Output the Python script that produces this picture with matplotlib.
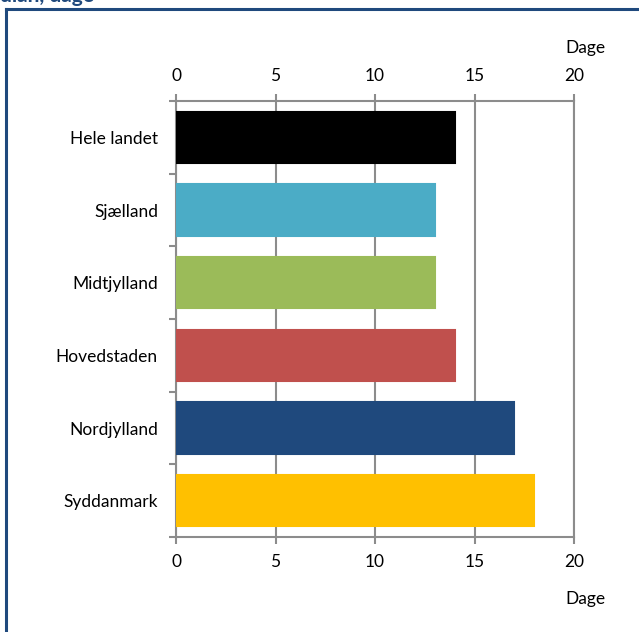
import numpy as np
import matplotlib.pyplot as plt
from matplotlib.lines import Line2D

plt.rcParams['font.family'] = ['Lato', 'DejaVu Sans']

# data
regions = ["Hele landet", "Sjælland", "Midtjylland", "Hovedstaden", "Nordjylland", "Syddanmark"]
days = [14, 13, 13, 14, 17, 18]
colors = ["#000000", "#4BACC6", "#9BBB59", "#C0504D", "#1F497D", "#FFC000"]
x_ticks = [0, 5, 10, 15, 20]

GRAY = "#8C8C8C"
FRAME = "#1F497D"

fig = plt.figure(figsize=(6.39, 6.32), dpi=100)
ax = fig.add_axes([176 / 639, 1 - 537 / 632, 398 / 639, 436 / 632])

ypos = np.arange(len(regions))
ax.barh(ypos, days, height=0.71, color=colors, edgecolor=colors, linewidth=1.5, zorder=3)

ax.set_xlim(0, 20)
ax.set_ylim(len(regions) - 0.5, -0.5)

# vertical gridlines
ax.set_xticks(x_ticks)
ax.grid(axis="x", color=GRAY, linewidth=1.5, zorder=0)
ax.tick_params(axis="x", top=True, labeltop=True, bottom=True, labelbottom=True,
               direction="out", length=5, width=1.5, color=GRAY, labelsize=12.5, pad=7)

# category labels in the middle, tick marks on the boundaries
ax.set_yticks(ypos)
ax.set_yticklabels(regions)
ax.set_yticks(np.arange(len(regions) + 1) - 0.5, minor=True)
ax.tick_params(axis="y", which="major", length=0, labelsize=12.5, pad=13)
ax.tick_params(axis="y", which="minor", length=5, width=1.5, color=GRAY, direction="out")

for side in ["top", "bottom", "left", "right"]:
    ax.spines[side].set_color(GRAY)
    ax.spines[side].set_linewidth(1.5)

fig.text(585 / 639, 1 - 48 / 632, "Dage", ha="center", va="center", fontsize=12.5)
fig.text(585 / 639, 1 - 599 / 632, "Dage", ha="center", va="center", fontsize=12.5)

# cropped title and frame
fig.text(0.0, 1 - 2 / 632, "dian, dage", ha="left", va="baseline",
         fontsize=15, fontweight="bold", color=FRAME)
fig.add_artist(Line2D([6 / 639, 1], [1 - 9 / 632, 1 - 9 / 632], color=FRAME, linewidth=2.2))
fig.add_artist(Line2D([6 / 639, 6 / 639], [0, 1 - 9 / 632], color=FRAME, linewidth=2.2))

fig.savefig("out.png", dpi=100)
